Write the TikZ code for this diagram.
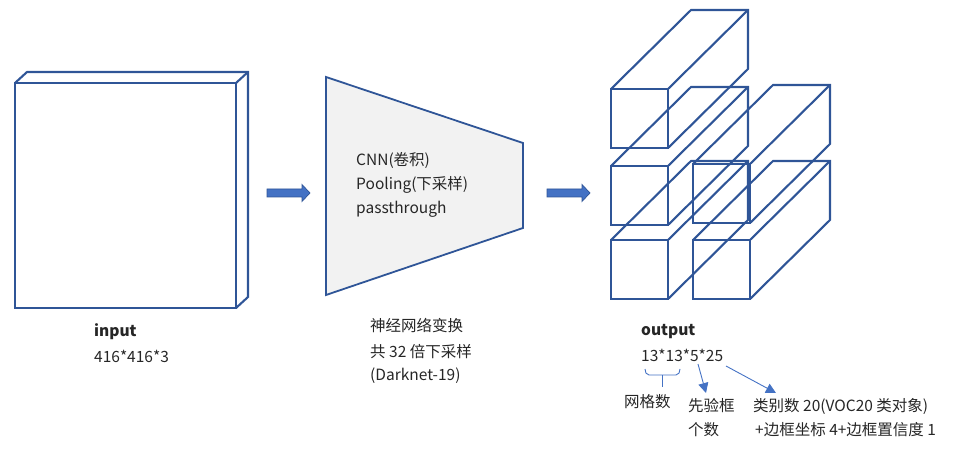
\documentclass[tikz,border=0pt]{standalone}
\usepackage{fontspec}
\setmainfont{Noto Sans CJK SC}
\usetikzlibrary{arrows.meta}
\definecolor{edge}{HTML}{2F5597}
\definecolor{accent}{HTML}{4472C4}
\definecolor{trapfill}{HTML}{F2F2F2}
\definecolor{txt}{HTML}{262626}
\newcommand\mycuboid[2]{%
  \draw[boxline] (#1,#2) rectangle ++(57,59);
  \draw[boxline] (#1,#2) -- ++(80,-79) -- ++(57,0) -- ++(0,59) -- ++(-80,79);
  \draw[boxline] (#1+57,#2) -- ++(80,-79);}
\newcommand\myblockarrow[2]{%
  \draw[blockarrow] (#1,#2-4) -- ++(35,0) -- ++(0,-4.5) -- ++(8,8.5) -- ++(-8,8.5) -- ++(0,-4.5) -- ++(-35,0) -- cycle;}
\begin{document}
\begin{tikzpicture}[x=1pt,y=-1pt,
  boxline/.style={draw=edge,line width=2.1pt,line join=miter},
  lbl/.style={anchor=west,inner sep=0pt,text=txt,font=\fontsize{15.5}{24}\selectfont,align=left},
  blockarrow/.style={draw=edge,fill=accent,line width=0.7pt,line join=miter},
  thinarrow/.style={draw=accent,line width=0.9pt,-{Triangle[width=10pt,length=10pt]}}]
\useasboundingbox (0,0) rectangle (962,449);
% input slab
\draw[boxline] (15,83) rectangle (236,308);
\draw[boxline] (15,83) -- (27,72) -- (248,72) -- (248,297) -- (236,308);
\draw[boxline] (236,83) -- (248,72);
% block arrows
\myblockarrow{267}{193}
\myblockarrow{547}{193}
% trapezoid
\draw[boxline,fill=trapfill,line width=1.8pt] (326,77) -- (523,143) -- (523,228) -- (326,295) -- cycle;
\node[lbl] (cnn) at (356,160) {CNN(卷积)};
\node[lbl] (pool) at (356,185) {Pooling(下采样)};
\node[lbl] (pass) at (356,209) {passthrough};
% cuboids
\mycuboid{611}{89}
\mycuboid{611}{166}
\mycuboid{611}{240}
\mycuboid{693}{164}
\mycuboid{693}{240}
% labels
\node[lbl,font=\fontsize{15.5}{24}\selectfont\bfseries] (inlbl) at (94,332) {input};
\node[lbl] (insize) at (94,356) {416*416*3};
\node[lbl] (net1) at (370,326) {神经网络变换};
\node[lbl] (net2) at (370,352) {共 32 倍下采样};
\node[lbl] (net3) at (370,376) {(Darknet-19)};
\node[lbl,font=\fontsize{15.5}{24}\selectfont\bfseries] (outlbl) at (641,332) {output};
\node[lbl] (outsize) at (641,355) {13*13*5*25};
\node[lbl] (grid) at (624,402) {网格数};
\node[lbl] (anch1) at (688,406) {先验框};
\node[lbl] (anch2) at (688,430) {个数};
\node[lbl] (cls1) at (753,406) {类别数 20(VOC20 类对象)};
\node[lbl] (cls2) at (755,430) {+边框坐标 4+边框置信度 1};
% brace
\draw[accent,line width=0.9pt] (645,369) to[out=-90,in=180] (649,375) -- (676,375) to[out=0,in=-90] (680,369);
\draw[accent,line width=0.9pt] (662,375) -- (662,387);
\coordinate (five) at (698,364);
\coordinate (tw) at (726,366);
\draw[thinarrow] (five) -- (706,393);
\draw[thinarrow] (tw) -- (776,393);
\end{tikzpicture}
\end{document}
